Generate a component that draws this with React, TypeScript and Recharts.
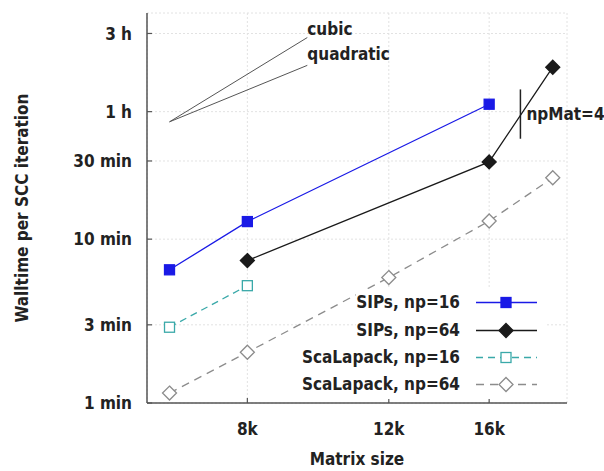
import { LineChart, Line, XAxis, YAxis, CartesianGrid, ReferenceLine } from 'recharts';

const FONT = "'DejaVu Sans Condensed', 'Liberation Sans', sans-serif";
const FS = 17;

// matrix sizes (x) and walltimes in minutes (y)
const sizes = [6400, 8000, 12000, 16000, 19200];
const sips16 = [6.5, 12.8, null, 66.6, null];
const sips64 = [null, 7.4, null, 29.6, 112];
const scal16 = [2.9, 5.2, null, null, null];
const scal64 = [1.15, 2.04, 5.83, 12.9, 23.7];

const xTicks = [8000, 12000, 16000];
const yTicks = [1, 3, 10, 30, 60, 180];
const yTickLabels: Record<number, string> = { 1: '1 min', 3: '3 min', 10: '10 min', 30: '30 min', 60: '1 h', 180: '3 h' };

// scaling guides (log-log slopes 3 and 2) and npMat marker
const guideStart = { x: 6400, y: 52 };
const cubicEnd = { x: 9500, y: 170 };
const quadEnd = { x: 9500, y: 115 };
const npMatX = 17500;
const npMatRange = [41, 82];

const data = sizes.map((size, i) => ({
  size,
  sips16: sips16[i],
  sips64: sips64[i],
  scal16: scal16[i],
  scal64: scal64[i],
}));

type Marker = 'square' | 'diamond';

const SERIES = [
  { key: 'sips16', name: 'SIPs, np=16', color: '#1a1ae6', dash: undefined, marker: 'square' as Marker, filled: true },
  { key: 'sips64', name: 'SIPs, np=64', color: '#1a1a1a', dash: undefined, marker: 'diamond' as Marker, filled: true },
  { key: 'scal16', name: 'ScaLapack, np=16', color: '#3aa9a9', dash: '7 5', marker: 'square' as Marker, filled: false },
  { key: 'scal64', name: 'ScaLapack, np=64', color: '#8c8c8c', dash: '8 6', marker: 'diamond' as Marker, filled: false },
];

function drawMarker(cx: number, cy: number, marker: Marker, color: string, filled: boolean, key?: any) {
  const fill = filled ? color : '#fff';
  if (marker === 'square') {
    return <rect key={key} x={cx - 5} y={cy - 5} width={10} height={10} fill={fill} stroke={color} strokeWidth={1.3} />;
  }
  return (
    <path key={key} d={`M${cx},${cy - 7}L${cx + 7},${cy}L${cx},${cy + 7}L${cx - 7},${cy}Z`} fill={fill} stroke={color} strokeWidth={1.3} />
  );
}

const txt = { fontFamily: FONT, fontSize: FS, fontWeight: 700, fill: '#222' };

const LeftTick = ({ x, y, payload }: any) => (
  <g>
    <line x1={x} y1={y} x2={x + 5} y2={y} stroke="#555" strokeWidth={1.2} />
    <text x={x - 15} y={y} dy="0.36em" textAnchor="end" {...txt}>{yTickLabels[payload.value]}</text>
  </g>
);
const RightTick = ({ x, y }: any) => <line x1={x} y1={y} x2={x - 5} y2={y} stroke="#555" strokeWidth={1.2} />;
const BottomTick = ({ x, y, payload }: any) => (
  <g>
    <line x1={x} y1={y} x2={x} y2={y - 5} stroke="#555" strokeWidth={1.2} />
    <text x={x} y={y + 32} textAnchor="middle" {...txt}>{`${payload.value / 1000}k`}</text>
  </g>
);
const TopTick = ({ x, y }: any) => <line x1={x} y1={y} x2={x} y2={y + 5} stroke="#555" strokeWidth={1.2} />;

export default function App() {
  return (
    <div style={{ position: 'absolute', left: 0, top: 0, width: 604, height: 471, background: '#fff' }}>
      <LineChart width={604} height={471} data={data} margin={{ top: 13, right: 37, bottom: 0, left: 0 }}>
        <CartesianGrid stroke="#e2e2e2" strokeDasharray="2 2" />
        <XAxis
          dataKey="size"
          type="number"
          scale="log"
          domain={[6000, 20000]}
          allowDataOverflow
          ticks={xTicks}
          height={68}
          tickSize={0}
          tickMargin={0}
          tick={<BottomTick />}
          axisLine={{ stroke: '#555', strokeWidth: 1.5 }}
          label={({ viewBox }: any) => (
            <text x={viewBox.x + viewBox.width / 2} y={viewBox.y + 62} textAnchor="middle" {...txt}>Matrix size</text>
          )}
        />
        <XAxis
          xAxisId="top"
          orientation="top"
          dataKey="size"
          type="number"
          scale="log"
          domain={[6000, 20000]}
          allowDataOverflow
          ticks={xTicks}
          height={0}
          tickSize={0}
          tickMargin={0}
          tick={<TopTick />}
          axisLine={{ stroke: '#555', strokeWidth: 1.5 }}
        />
        <YAxis
          type="number"
          scale="log"
          domain={[1, 240]}
          allowDataOverflow
          ticks={yTicks}
          width={147}
          tickSize={0}
          tickMargin={0}
          tick={<LeftTick />}
          axisLine={{ stroke: '#555', strokeWidth: 1.5 }}
          label={({ viewBox }: any) => {
            const cx = viewBox.x + 22;
            const cy = viewBox.y + viewBox.height / 2;
            return (
              <text x={cx} y={cy} textAnchor="middle" dominantBaseline="central" transform={`rotate(-90 ${cx} ${cy})`} {...txt}>
                Walltime per SCC iteration
              </text>
            );
          }}
        />
        <YAxis
          yAxisId="right"
          orientation="right"
          type="number"
          scale="log"
          domain={[1, 240]}
          allowDataOverflow
          ticks={yTicks}
          width={0}
          tickSize={0}
          tickMargin={0}
          tick={<RightTick />}
          axisLine={{ stroke: '#555', strokeWidth: 1.5 }}
        />
        <ReferenceLine
          segment={[guideStart, cubicEnd]}
          stroke="#555"
          strokeWidth={1}
          label={({ viewBox }: any) => (
            <text x={viewBox.x + viewBox.width} y={viewBox.y - 3} {...txt}>cubic</text>
          )}
        />
        <ReferenceLine
          segment={[guideStart, quadEnd]}
          stroke="#555"
          strokeWidth={1}
          label={({ viewBox }: any) => (
            <text x={viewBox.x + viewBox.width} y={viewBox.y - 5} {...txt}>quadratic</text>
          )}
        />
        <ReferenceLine
          segment={[{ x: npMatX, y: npMatRange[0] }, { x: npMatX, y: npMatRange[1] }]}
          stroke="#222"
          strokeWidth={1.5}
          label={({ viewBox }: any) => (
            <text x={viewBox.x + 6} y={viewBox.y + 31} {...txt}>npMat=4</text>
          )}
        />
        {SERIES.map((s) => (
          <Line
            key={s.key}
            dataKey={s.key}
            name={s.name}
            stroke={s.color}
            strokeWidth={1.3}
            strokeDasharray={s.dash}
            connectNulls
            isAnimationActive={false}
            dot={(p: any) =>
              p.cy == null || p.value == null ? <g key={p.key} /> : drawMarker(p.cx, p.cy, s.marker, s.color, s.filled, p.key)
            }
            activeDot={false}
          />
        ))}
      </LineChart>
      <div style={{ position: 'absolute', right: 59, top: 289, fontFamily: FONT, fontSize: FS, fontWeight: 700, color: '#222' }}>
        {SERIES.map((s) => (
          <div key={s.key} style={{ display: 'flex', justifyContent: 'flex-end' }}>
            <div style={{ display: 'flex', alignItems: 'center', height: 27.4, background: '#fff', lineHeight: '27px' }}>
              <span style={{ whiteSpace: 'nowrap' }}>{s.name}</span>
              <svg width={85} height={27} style={{ display: 'block' }}>
                <line x1={16} y1={13.5} x2={77} y2={13.5} stroke={s.color} strokeWidth={1.3} strokeDasharray={s.dash} />
                {drawMarker(46, 13.5, s.marker, s.color, s.filled)}
              </svg>
            </div>
          </div>
        ))}
      </div>
    </div>
  );
}
